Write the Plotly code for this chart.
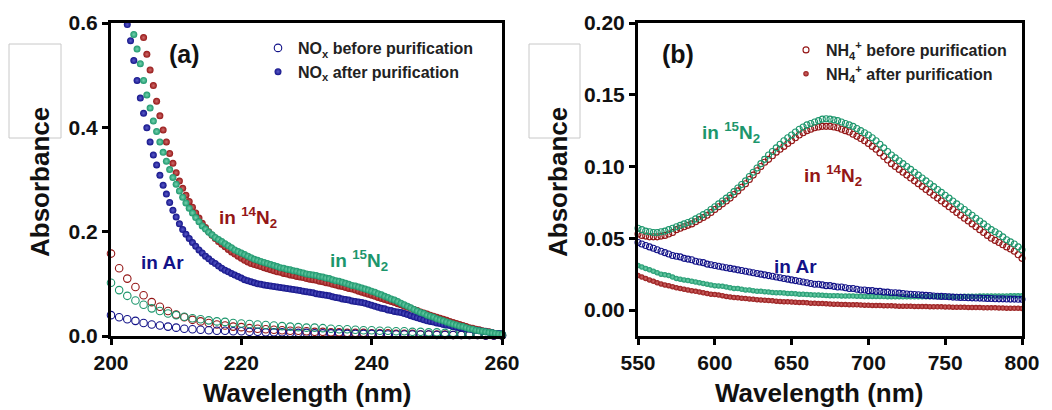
import numpy as np
import plotly.graph_objects as go

W, H = 1052, 410

# ---------------- Panel (a): NOx, 200-260 nm ----------------
A_OPEN_START, A_OPEN_STEP = 200.0, 1.25
a_open_ar = [0.040, 0.036, 0.032, 0.029, 0.025, 0.022, 0.020, 0.018, 0.016, 0.014,
             0.013, 0.012, 0.011, 0.010, 0.010, 0.009, 0.009, 0.008, 0.008, 0.007,
             0.007, 0.007, 0.006, 0.006, 0.006, 0.005, 0.005, 0.005, 0.005, 0.004,
             0.004, 0.004, 0.004, 0.004, 0.003, 0.003, 0.003, 0.003, 0.003, 0.003,
             0.002, 0.002, 0.002, 0.002, 0.002, 0.002, 0.001, 0.001, 0.001]
a_open_15n2 = [0.102, 0.088, 0.077, 0.068, 0.060, 0.053, 0.048, 0.043, 0.040, 0.037,
               0.034, 0.032, 0.030, 0.028, 0.027, 0.025, 0.024, 0.023, 0.022, 0.021,
               0.020, 0.019, 0.018, 0.017, 0.016, 0.016, 0.015, 0.014, 0.013, 0.013,
               0.012, 0.011, 0.011, 0.010, 0.010, 0.009, 0.009, 0.008, 0.008, 0.007,
               0.007, 0.006, 0.006, 0.005, 0.005, 0.004, 0.004, 0.003, 0.003]
a_open_14n2 = [0.158, 0.130, 0.110, 0.094, 0.078, 0.065, 0.056, 0.048, 0.041, 0.036,
               0.031, 0.028, 0.025, 0.022, 0.020, 0.018, 0.017, 0.015, 0.014, 0.013,
               0.012, 0.011, 0.010, 0.010, 0.009, 0.008, 0.008, 0.007, 0.007, 0.006,
               0.006, 0.006, 0.005, 0.005, 0.005, 0.004, 0.004, 0.004, 0.003, 0.003,
               0.003, 0.003, 0.002, 0.002, 0.002, 0.002, 0.001, 0.001, 0.001]

A_FILL_STEP = 0.5
A_FILL_AR_START = 202.5
a_fill_ar = [0.597, 0.566, 0.528, 0.490, 0.456, 0.427, 0.399, 0.372, 0.347, 0.328,
             0.308, 0.289, 0.272, 0.256, 0.241, 0.228, 0.215, 0.204, 0.195, 0.187,
             0.179, 0.172, 0.165, 0.159, 0.153, 0.148, 0.143, 0.139, 0.134, 0.130,
             0.126, 0.123, 0.120, 0.117, 0.114, 0.111, 0.108, 0.106, 0.104, 0.102,
             0.100, 0.099, 0.098, 0.097, 0.096, 0.095, 0.094, 0.093, 0.092, 0.091,
             0.090, 0.089, 0.088, 0.087, 0.086, 0.085, 0.084, 0.083, 0.081, 0.080,
             0.079, 0.078, 0.077, 0.075, 0.074, 0.073, 0.071, 0.070, 0.069, 0.067,
             0.066, 0.065, 0.064, 0.063, 0.061, 0.059, 0.057, 0.055, 0.053, 0.052,
             0.050, 0.049, 0.047, 0.046, 0.045, 0.043, 0.041, 0.039, 0.037, 0.035,
             0.033, 0.031, 0.029, 0.028, 0.027, 0.025, 0.024, 0.022, 0.021, 0.020,
             0.018, 0.017, 0.016, 0.015, 0.014, 0.013, 0.012, 0.011, 0.010, 0.009,
             0.008, 0.007, 0.006, 0.005, 0.005, 0.004]
A_FILL_15N2_START = 203.5
a_fill_15n2 = [0.578, 0.550, 0.522, 0.490, 0.462, 0.437, 0.412, 0.392, 0.372, 0.352,
               0.335, 0.319, 0.304, 0.291, 0.278, 0.266, 0.255, 0.245, 0.236, 0.227,
               0.219, 0.211, 0.205, 0.199, 0.194, 0.189, 0.185, 0.181, 0.177, 0.173,
               0.169, 0.165, 0.162, 0.159, 0.156, 0.153, 0.150, 0.147, 0.145, 0.143,
               0.141, 0.139, 0.137, 0.135, 0.133, 0.131, 0.130, 0.128, 0.127, 0.125,
               0.124, 0.122, 0.121, 0.119, 0.118, 0.117, 0.116, 0.114, 0.113, 0.111,
               0.110, 0.108, 0.106, 0.105, 0.103, 0.101, 0.099, 0.097, 0.096, 0.094,
               0.092, 0.090, 0.088, 0.086, 0.084, 0.081, 0.079, 0.076, 0.074, 0.071,
               0.069, 0.066, 0.063, 0.060, 0.057, 0.054, 0.051, 0.048, 0.045, 0.043,
               0.040, 0.038, 0.036, 0.033, 0.031, 0.029, 0.027, 0.025, 0.023, 0.021,
               0.019, 0.018, 0.016, 0.014, 0.013, 0.011, 0.010, 0.009, 0.008, 0.007,
               0.006, 0.005, 0.004, 0.003]
A_FILL_14N2_START = 205.0
a_fill_14n2 = [0.572, 0.540, 0.510, 0.480, 0.450, 0.422, 0.395, 0.372, 0.350, 0.331,
               0.313, 0.297, 0.283, 0.270, 0.258, 0.247, 0.236, 0.226, 0.216, 0.208,
               0.200, 0.193, 0.187, 0.181, 0.176, 0.171, 0.166, 0.161, 0.157, 0.153,
               0.149, 0.145, 0.142, 0.139, 0.137, 0.135, 0.133, 0.131, 0.129, 0.127,
               0.125, 0.123, 0.122, 0.120, 0.119, 0.117, 0.116, 0.114, 0.113, 0.112,
               0.110, 0.109, 0.108, 0.107, 0.105, 0.104, 0.102, 0.101, 0.099, 0.098,
               0.096, 0.095, 0.093, 0.091, 0.090, 0.088, 0.086, 0.084, 0.082, 0.080,
               0.078, 0.076, 0.074, 0.072, 0.070, 0.068, 0.066, 0.064, 0.062, 0.060,
               0.057, 0.055, 0.053, 0.051, 0.049, 0.046, 0.044, 0.042, 0.040, 0.038,
               0.036, 0.034, 0.032, 0.030, 0.028, 0.026, 0.024, 0.022, 0.020, 0.018,
               0.016, 0.015, 0.013, 0.012, 0.010, 0.009, 0.008, 0.006, 0.005, 0.004,
               0.003]

# ---------------- Panel (b): NH4+, 550-800 nm ----------------
B_START, B_STEP = 550.0, 2.5
b_open_15n2 = [0.057, 0.056, 0.055, 0.0545, 0.054, 0.054, 0.0545, 0.055, 0.056, 0.057,
               0.058, 0.059, 0.060, 0.061, 0.062, 0.0635, 0.065, 0.0665, 0.068, 0.070,
               0.072, 0.074, 0.076, 0.078, 0.080, 0.0825, 0.085, 0.0875, 0.090, 0.093,
               0.096, 0.099, 0.102, 0.105, 0.108, 0.1105, 0.113, 0.1155, 0.118, 0.120,
               0.122, 0.124, 0.126, 0.1275, 0.129, 0.130, 0.131, 0.132, 0.133, 0.1333,
               0.133, 0.1325, 0.132, 0.131, 0.130, 0.129, 0.128, 0.1265, 0.125, 0.1235,
               0.122, 0.120, 0.118, 0.1155, 0.113, 0.1105, 0.108, 0.106, 0.104, 0.102,
               0.100, 0.098, 0.096, 0.094, 0.092, 0.090, 0.088, 0.086, 0.084, 0.082,
               0.080, 0.078, 0.076, 0.074, 0.072, 0.070, 0.068, 0.066, 0.064, 0.062,
               0.060, 0.058, 0.056, 0.0545, 0.053, 0.051, 0.049, 0.0475, 0.046, 0.044,
               0.042]
b_open_14n2 = [0.053, 0.052, 0.0515, 0.051, 0.051, 0.051, 0.0515, 0.052, 0.053, 0.054,
               0.056, 0.057, 0.058, 0.059, 0.060, 0.0615, 0.063, 0.0645, 0.066, 0.068,
               0.070, 0.072, 0.074, 0.076, 0.078, 0.0805, 0.083, 0.0855, 0.088, 0.091,
               0.094, 0.097, 0.100, 0.103, 0.105, 0.1075, 0.110, 0.112, 0.114, 0.116,
               0.118, 0.120, 0.122, 0.1235, 0.125, 0.126, 0.127, 0.1275, 0.128, 0.128,
               0.128, 0.1275, 0.127, 0.126, 0.125, 0.124, 0.1225, 0.121, 0.1195, 0.118,
               0.116, 0.114, 0.112, 0.1095, 0.107, 0.1045, 0.102, 0.100, 0.098, 0.096,
               0.094, 0.092, 0.090, 0.088, 0.086, 0.084, 0.082, 0.080, 0.078, 0.076,
               0.074, 0.072, 0.070, 0.068, 0.066, 0.064, 0.062, 0.060, 0.058, 0.056,
               0.054, 0.052, 0.050, 0.0485, 0.047, 0.0455, 0.044, 0.0425, 0.041, 0.0385,
               0.036]
b_open_ar = [0.047, 0.046, 0.045, 0.044, 0.043, 0.042, 0.041, 0.040, 0.039, 0.038,
             0.0375, 0.037, 0.036, 0.0355, 0.035, 0.034, 0.0335, 0.033, 0.032, 0.0315,
             0.031, 0.0305, 0.030, 0.0295, 0.029, 0.0285, 0.028, 0.0275, 0.027, 0.0265,
             0.026, 0.0255, 0.025, 0.0245, 0.024, 0.0235, 0.023, 0.0225, 0.022, 0.0215,
             0.021, 0.0205, 0.020, 0.0195, 0.019, 0.0185, 0.018, 0.018, 0.0175, 0.017,
             0.017, 0.0165, 0.016, 0.016, 0.0155, 0.015, 0.015, 0.0145, 0.014, 0.014,
             0.0135, 0.0135, 0.013, 0.013, 0.0125, 0.0125, 0.012, 0.012, 0.0118, 0.0115,
             0.0112, 0.011, 0.0108, 0.0106, 0.0104, 0.0102, 0.010, 0.0098, 0.0096, 0.0095,
             0.0094, 0.0092, 0.009, 0.0089, 0.0088, 0.0087, 0.0086, 0.0085, 0.0084, 0.0083,
             0.0082, 0.0081, 0.008, 0.0079, 0.0078, 0.0078, 0.0077, 0.0076, 0.0076, 0.0075,
             0.0075]
b_fill_15n2 = [0.031, 0.030, 0.029, 0.028, 0.027, 0.026, 0.025, 0.0245, 0.024, 0.023,
               0.022, 0.0215, 0.021, 0.0205, 0.020, 0.0195, 0.019, 0.0185, 0.018, 0.0175,
               0.017, 0.0168, 0.0165, 0.016, 0.0155, 0.015, 0.015, 0.0145, 0.014, 0.014,
               0.0135, 0.013, 0.013, 0.0128, 0.0125, 0.0122, 0.012, 0.012, 0.0118, 0.0115,
               0.0115, 0.0113, 0.011, 0.011, 0.0108, 0.0106, 0.0105, 0.0105, 0.0103, 0.0102,
               0.010, 0.010, 0.0099, 0.0098, 0.0098, 0.0097, 0.0097, 0.0096, 0.0096, 0.0095,
               0.0095, 0.0095, 0.0094, 0.0094, 0.0094, 0.0093, 0.0093, 0.0093, 0.0093, 0.0092,
               0.0092, 0.0092, 0.0092, 0.0093, 0.0093, 0.0093, 0.0093, 0.0094, 0.0094, 0.0094,
               0.0094, 0.0095, 0.0095, 0.0095, 0.0095, 0.0096, 0.0096, 0.0096, 0.0096, 0.0097,
               0.0097, 0.0097, 0.0097, 0.0098, 0.0098, 0.0098, 0.0098, 0.0099, 0.0099, 0.0099,
               0.010]
b_fill_14n2 = [0.024, 0.023, 0.022, 0.021, 0.020, 0.019, 0.0182, 0.0175, 0.017, 0.0163,
               0.0155, 0.015, 0.0145, 0.014, 0.0135, 0.013, 0.0125, 0.012, 0.0115, 0.011,
               0.0108, 0.0104, 0.010, 0.0095, 0.009, 0.0087, 0.0085, 0.0082, 0.008, 0.0077,
               0.0075, 0.0072, 0.007, 0.0068, 0.0066, 0.0064, 0.0062, 0.006, 0.0058, 0.0057,
               0.0056, 0.0055, 0.0053, 0.0052, 0.005, 0.0048, 0.0047, 0.0046, 0.0045, 0.0043,
               0.0042, 0.0041, 0.004, 0.0039, 0.0038, 0.0037, 0.0036, 0.0036, 0.0035, 0.0034,
               0.0033, 0.0032, 0.0031, 0.0031, 0.003, 0.003, 0.0029, 0.0028, 0.0027, 0.0027,
               0.0026, 0.0026, 0.0025, 0.0025, 0.0024, 0.0024, 0.0023, 0.0023, 0.0022, 0.0022,
               0.0021, 0.0021, 0.002, 0.002, 0.0019, 0.0019, 0.0018, 0.0018, 0.0017, 0.0017,
               0.0016, 0.0016, 0.0015, 0.0015, 0.0014, 0.0014, 0.0013, 0.0013, 0.0012, 0.0012,
               0.0011]

A_XTICKS = [200, 220, 240, 260]
A_YTICKS = [0.0, 0.2, 0.4, 0.6]
B_XTICKS = [550, 600, 650, 700, 750, 800]
B_YTICKS = [0.00, 0.05, 0.10, 0.15, 0.20]

BLUE = "#121288"
RED = "#941616"
GREEN = "#1c966c"
BLUE_HI = "#5a5ac8"
RED_HI = "#d06a6a"
GREEN_HI = "#74d2ae"
FONT = "Arial, Liberation Sans, sans-serif"


def grid(start, step, vals):
    return start + step * np.arange(len(vals))


fig = go.Figure()


def open_trace(x, y, color, size, xa, ya, **kw):
    fig.add_trace(go.Scatter(
        x=x, y=y, mode="markers", xaxis=xa, yaxis=ya, cliponaxis=False,
        marker=dict(symbol="circle-open", size=size, color=color, line=dict(width=1.1)),
        **kw))


def fill_trace(x, y, color, hi, size, xa, ya, **kw):
    fig.add_trace(go.Scatter(
        x=x, y=y, mode="markers", xaxis=xa, yaxis=ya, cliponaxis=False,
        marker=dict(symbol="circle", size=size, color=color, line=dict(width=0),
                    gradient=dict(type="radial", color=hi)),
        **kw))


# Panel (a)
open_trace(grid(A_OPEN_START, A_OPEN_STEP, a_open_14n2), a_open_14n2, RED, 7.5, "x", "y",
           showlegend=False)
open_trace(grid(A_OPEN_START, A_OPEN_STEP, a_open_ar), a_open_ar, BLUE, 7.5, "x", "y",
           name="NO<sub>x</sub> before purification", legend="legend", legendrank=1)
open_trace(grid(A_OPEN_START, A_OPEN_STEP, a_open_15n2), a_open_15n2, GREEN, 7.5, "x", "y",
           showlegend=False)
fill_trace(grid(A_FILL_14N2_START, A_FILL_STEP, a_fill_14n2), a_fill_14n2, RED, RED_HI, 7,
           "x", "y", showlegend=False)
fill_trace(grid(A_FILL_AR_START, A_FILL_STEP, a_fill_ar), a_fill_ar, BLUE, BLUE_HI, 7,
           "x", "y", name="NO<sub>x</sub> after purification", legend="legend", legendrank=2)
fill_trace(grid(A_FILL_15N2_START, A_FILL_STEP, a_fill_15n2), a_fill_15n2, GREEN, GREEN_HI, 7,
           "x", "y", showlegend=False)

# Panel (b)
fill_trace(grid(B_START, B_STEP, b_fill_14n2), b_fill_14n2, RED, RED_HI, 5.5, "x2", "y2",
           name="NH<sub>4</sub><sup>+</sup> after purification", legend="legend2", legendrank=2)
fill_trace(grid(B_START, B_STEP, b_fill_15n2), b_fill_15n2, GREEN, GREEN_HI, 5.5, "x2", "y2",
           showlegend=False)
open_trace(grid(B_START, B_STEP, b_open_ar), b_open_ar, BLUE, 6, "x2", "y2", showlegend=False)
open_trace(grid(B_START, B_STEP, b_open_14n2), b_open_14n2, RED, 6, "x2", "y2",
           name="NH<sub>4</sub><sup>+</sup> before purification", legend="legend2", legendrank=1)
open_trace(grid(B_START, B_STEP, b_open_15n2), b_open_15n2, GREEN, 6, "x2", "y2",
           showlegend=False)

axis_common = dict(showgrid=False, zeroline=False, showline=True, linecolor="black",
                   linewidth=3, mirror=True, ticks="outside", ticklen=6, tickwidth=3,
                   tickcolor="black", automargin=False,
                   tickfont=dict(family=FONT, size=21, color="#111", weight="bold"))

fig.update_layout(
    width=W, height=H, margin=dict(l=0, r=0, t=0, b=0, autoexpand=False),
    paper_bgcolor="white", plot_bgcolor="white",
    xaxis=dict(domain=[111 / W, 502 / W], range=[200, 260], tickvals=A_XTICKS,
               anchor="y", **axis_common),
    yaxis=dict(domain=[1 - 336 / H, 1 - 23 / H], range=[0, 0.6], tickvals=A_YTICKS,
               tickformat=".1f", anchor="x", **axis_common),
    xaxis2=dict(domain=[638 / W, 1022 / W], range=[550, 800], tickvals=B_XTICKS,
                anchor="y2", **axis_common),
    yaxis2=dict(domain=[1 - 336 / H, 1 - 23 / H], range=[-0.0181, 0.2], tickvals=B_YTICKS,
                tickformat=".2f", anchor="x2", **axis_common),
    legend=dict(x=258 / W, y=1 - 31 / H, xanchor="left", yanchor="top",
                bgcolor="rgba(0,0,0,0)", borderwidth=0,
                font=dict(family=FONT, size=16, color="#222", weight="bold")),
    legend2=dict(x=786 / W, y=1 - 33 / H, xanchor="left", yanchor="top",
                 bgcolor="rgba(0,0,0,0)", borderwidth=0,
                 font=dict(family=FONT, size=16, color="#222", weight="bold")),
)


def label(text, xpx, ypx, size, color="#111", angle=0):
    fig.add_annotation(text=text, x=xpx / W, y=1 - ypx / H, xref="paper", yref="paper",
                       showarrow=False, xanchor="center", yanchor="middle",
                       textangle=angle,
                       font=dict(family=FONT, size=size, color=color, weight="bold"))


label("Absorbance", 40, 182, 26, angle=-90)
label("Absorbance", 558, 182, 26, angle=-90)
label("Wavelength (nm)", 307, 393, 26)
label("Wavelength (nm)", 819, 393, 26)
label("(a)", 184, 54, 25)
label("(b)", 678, 54, 25)
label("in <sup>14</sup>N<sub>2</sub>", 248, 217, 19, RED)
label("in <sup>15</sup>N<sub>2</sub>", 359, 260, 19, GREEN)
label("in Ar", 162, 262, 19, BLUE)
label("in <sup>15</sup>N<sub>2</sub>", 731, 132, 19, GREEN)
label("in <sup>14</sup>N<sub>2</sub>", 833, 176, 19, RED)
label("in Ar", 795, 266, 19, BLUE)

for x0, x1 in [(9, 61), (529, 580)]:
    fig.add_shape(type="rect", xref="paper", yref="paper",
                  x0=x0 / W, x1=x1 / W, y0=1 - 138 / H, y1=1 - 44 / H,
                  line=dict(color="#c8c8c8", width=1), fillcolor="rgba(0,0,0,0)")

fig.write_html("out.html")
